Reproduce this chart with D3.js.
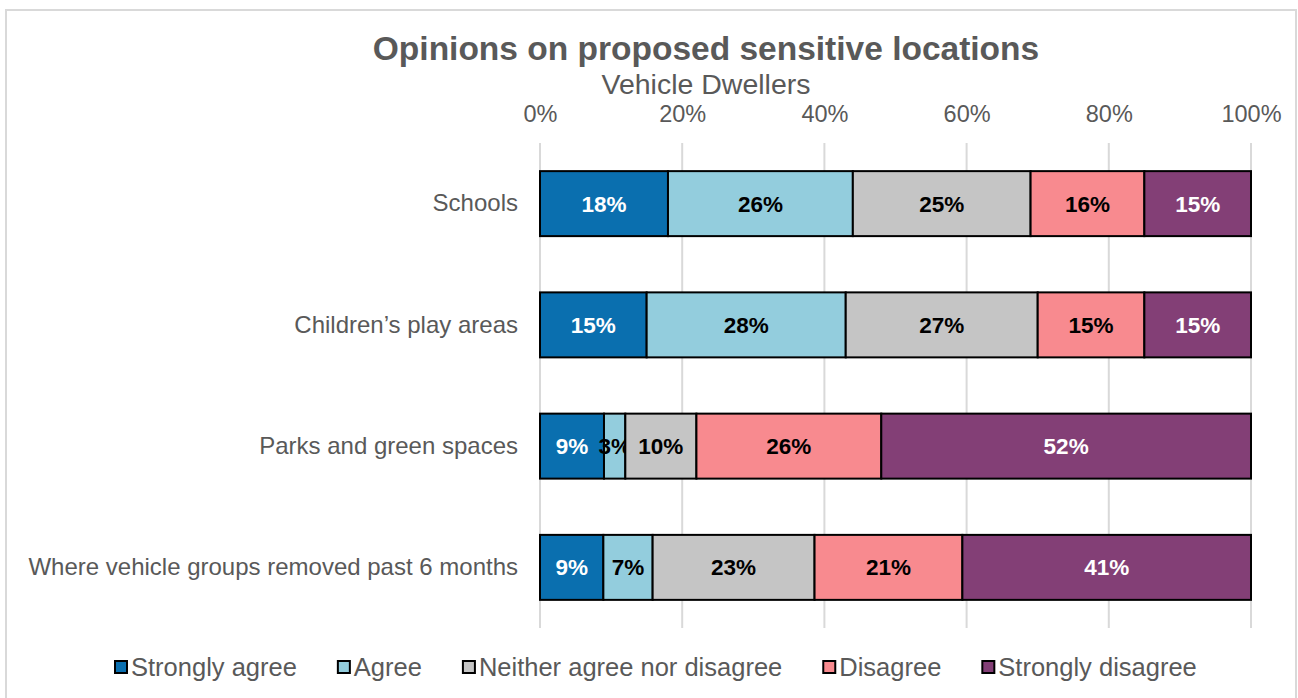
<!DOCTYPE html>
<html>
<head>
<meta charset="utf-8">
<script src="https://cdn.jsdelivr.net/npm/d3@7"></script>
<style>
  html, body { margin: 0; padding: 0; background: #fff; }
  svg { display: block; font-family: "Liberation Sans", Arial, sans-serif; }
</style>
</head>
<body>
<svg id="chart" width="1298" height="698"></svg>
<script>
// Survey categories (top to bottom) and response shares in percent
const categories = [
  "Schools",
  "Children\u2019s play areas",
  "Parks and green spaces",
  "Where vehicle groups removed past 6 months"
];
const responses = ["Strongly agree", "Agree", "Neither agree nor disagree", "Disagree", "Strongly disagree"];
const stronglyAgree    = [18, 15, 9, 9];
const agree            = [26, 28, 3, 7];
const neither          = [25, 27, 10, 23];
const disagree         = [16, 15, 26, 21];
const stronglyDisagree = [15, 15, 52, 41];
const tickValues = [0, 0.2, 0.4, 0.6, 0.8, 1.0];

const colors = ["#0a6faf", "#93cddd", "#c5c5c5", "#f88a8f", "#833f76"];
const labelColors = ["#ffffff", "#000000", "#000000", "#000000", "#ffffff"];
const textGrey = "#595959";

const seriesArrays = [stronglyAgree, agree, neither, disagree, stronglyDisagree];
const rows = categories.map((c, i) => {
  const r = { category: c };
  responses.forEach((k, j) => { r[k] = seriesArrays[j][i]; });
  return r;
});

const svg = d3.select("#chart");

// Outer frame
svg.append("rect")
  .attr("x", 6).attr("y", 10)
  .attr("width", 1290).attr("height", 720)
  .attr("fill", "#fff")
  .attr("stroke", "#d9d9d9").attr("stroke-width", 2);

const x = d3.scaleLinear().domain([0, 1]).range([540, 1251]);
const y = d3.scaleBand().domain(categories).range([143, 628])
  .paddingInner(0.464).paddingOuter(0.232);

// Titles
svg.append("text")
  .attr("x", 706).attr("y", 60)
  .attr("text-anchor", "middle")
  .attr("font-size", 33.5).attr("font-weight", "bold")
  .attr("fill", textGrey)
  .text("Opinions on proposed sensitive locations");
svg.append("text")
  .attr("x", 706).attr("y", 94)
  .attr("text-anchor", "middle")
  .attr("font-size", 28.5)
  .attr("fill", textGrey)
  .text("Vehicle Dwellers");

// Vertical gridlines
svg.append("g")
  .selectAll("line")
  .data(tickValues)
  .join("line")
  .attr("x1", d => x(d)).attr("x2", d => x(d))
  .attr("y1", 143).attr("y2", 628)
  .attr("stroke", "#d9d9d9").attr("stroke-width", 2);

// Top percentage axis
const xAxis = svg.append("g")
  .attr("transform", "translate(0,122)")
  .call(d3.axisTop(x).tickValues(tickValues).tickFormat(d3.format(".0%")).tickSize(0).tickPadding(0));
xAxis.select(".domain").remove();
xAxis.selectAll("text")
  .attr("font-family", "Liberation Sans, Arial, sans-serif")
  .attr("font-size", 23.5).attr("fill", textGrey)
  .attr("dy", 0);

// Category axis
const yAxis = svg.append("g")
  .attr("transform", "translate(540,0)")
  .call(d3.axisLeft(y).tickSize(0).tickPadding(22));
yAxis.select(".domain").remove();
yAxis.selectAll("text")
  .attr("font-family", "Liberation Sans, Arial, sans-serif")
  .attr("font-size", 24).attr("fill", textGrey);

// Stacked, normalised bars
const stack = d3.stack().keys(responses).offset(d3.stackOffsetExpand);
const series = stack(rows);

const groups = svg.append("g")
  .selectAll("g")
  .data(series)
  .join("g")
  .attr("fill", (d, i) => colors[i]);

groups.selectAll("rect")
  .data(d => d)
  .join("rect")
  .attr("x", d => x(d[0]))
  .attr("y", d => y(d.data.category))
  .attr("width", d => x(d[1]) - x(d[0]))
  .attr("height", y.bandwidth())
  .attr("stroke", "#000").attr("stroke-width", 2);

// Value labels
groups.each(function (s, i) {
  d3.select(this).selectAll("text")
    .data(s)
    .join("text")
    .attr("x", d => (x(d[0]) + x(d[1])) / 2)
    .attr("y", d => y(d.data.category) + y.bandwidth() / 2)
    .attr("dy", "0.36em")
    .attr("text-anchor", "middle")
    .attr("font-size", 22.5).attr("font-weight", "bold")
    .attr("fill", labelColors[i])
    .text(d => d.data[s.key] + "%");
});

// Legend
const legend = svg.append("g").attr("transform", "translate(114,667)");
let lx = 0;
responses.forEach((name, i) => {
  const g = legend.append("g").attr("transform", `translate(${lx},0)`);
  g.append("rect")
    .attr("x", 1).attr("y", -6)
    .attr("width", 12).attr("height", 12)
    .attr("fill", colors[i]).attr("stroke", "#000").attr("stroke-width", 2);
  const t = g.append("text")
    .attr("x", 17).attr("y", 0).attr("dy", "0.36em")
    .attr("font-size", 25.5).attr("fill", textGrey)
    .text(name);
  lx += 17 + t.node().getComputedTextLength() + 40;
});
</script>
</body>
</html>
